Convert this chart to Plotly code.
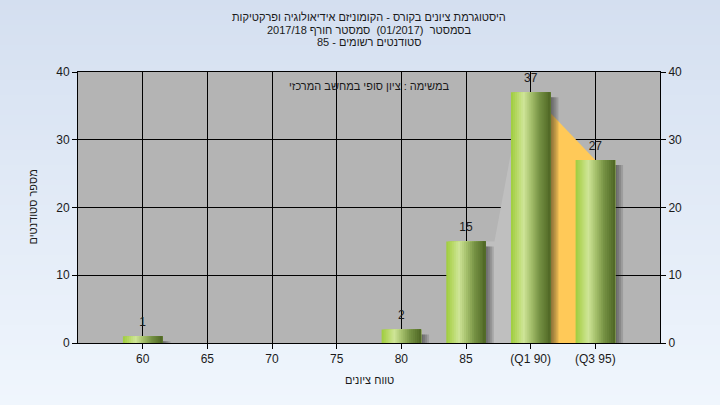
import plotly.graph_objects as go

# ---------------- data ----------------
categories = ["60", "65", "70", "75", "80", "85", "(Q1 90)", "(Q3 95)"]
counts = [1, 0, 0, 0, 2, 15, 37, 27]
y_ticks = [0, 10, 20, 30, 40]

# shaded bands behind the bars
lower_band_x = [5.0, 5.44, 5.87, 6.0]
lower_band_y = [15, 15, 37, 37]
quartile_band_x = [6, 7]
quartile_band_y = [37, 27]

title_lines = [
    "היסטוגרמת ציונים בקורס - הקומוניזם אידיאולוגיה ופרקטיקות",
    "בסמסטר  (01/2017)  סמסטר חורף 2017/18",
    "סטודנטים רשומים - 85",
]
note_text = "במשימה : ציון סופי במחשב המרכזי"
x_title = "טווח ציונים"
y_title = "מספר סטודנטים"

# ---------------- styling ----------------
FONT = "Liberation Sans, Arial, sans-serif"
TXT = "#1a1a1a"
W = 720
H = 405
M_L, M_R, M_T, M_B = 78, 60, 72, 62
bar_w = 0.61
n_slices = 20
stops = [
    (0.00, (158, 204, 62)),
    (0.12, (178, 214, 92)),
    (0.32, (207, 229, 152)),
    (0.50, (168, 194, 110)),
    (0.72, (118, 146, 68)),
    (1.00, (78, 102, 36)),
]


def grad(t):
    for (t0, c0), (t1, c1) in zip(stops[:-1], stops[1:]):
        if t0 <= t <= t1:
            f = (t - t0) / (t1 - t0)
            return "rgb(%d,%d,%d)" % tuple(round(a + (b - a) * f) for a, b in zip(c0, c1))
    return "rgb(%d,%d,%d)" % stops[-1][1]


def band_path(xs, ys):
    pts = ["M %s,0" % xs[0]]
    pts += ["L %s,%s" % (x, y) for x, y in zip(xs, ys)]
    pts.append("L %s,0 Z" % xs[-1])
    return " ".join(pts)


positions = list(range(len(categories)))

fig = go.Figure()

# shadows
px_x = 1.0 / 64.6
px_y = 40.0 / 271
for k in range(1, 5):
    fig.add_trace(go.Bar(
        x=positions, y=[max(c - 5 * px_y, 0) if c > 0 else 0 for c in counts],
        width=bar_w, offset=-bar_w / 2 + 2 * k * px_x,
        marker=dict(color="rgba(30,30,30,0.15)", line=dict(width=0)),
        hoverinfo="skip", showlegend=False))

# gradient bars (slices, each covering from its start to the bar's right edge)
sw = bar_w / n_slices
for i in range(n_slices):
    t = (i + 0.5) / n_slices
    fig.add_trace(go.Bar(
        x=positions, y=counts, width=bar_w - i * sw,
        offset=-bar_w / 2 + i * sw,
        marker=dict(color=grad(t), line=dict(width=0)),
        hoverinfo="skip", showlegend=False))

# value labels
lab_x = [p for p, c in zip(positions, counts) if c > 0]
lab_y = [c for c in counts if c > 0]
fig.add_trace(go.Scatter(
    x=lab_x, y=lab_y, mode="markers+text", text=[str(v) for v in lab_y],
    marker=dict(size=10, opacity=0),
    textposition="top center", textfont=dict(family=FONT, size=12, color=TXT),
    hoverinfo="skip", showlegend=False, cliponaxis=False))

# invisible trace for the right axis
fig.add_trace(go.Scatter(x=[0], y=[0], yaxis="y2", mode="markers",
                         marker=dict(opacity=0), hoverinfo="skip", showlegend=False))

# background gradient stripes
shapes = []
n_strip = 81
top_c = (212, 223, 240)
bot_c = (240, 246, 253)
y_lo = -M_B / (H - M_T - M_B)
y_hi = 1 + M_T / (H - M_T - M_B)
for i in range(n_strip):
    f0 = i / n_strip
    f1 = (i + 1) / n_strip
    c = tuple(round(a + (b - a) * (f0 + 0.5 / n_strip)) for a, b in zip(top_c, bot_c))
    shapes.append(dict(type="rect", xref="paper", yref="paper", layer="below",
                       x0=-0.3, x1=1.3,
                       y0=y_hi - (y_hi - y_lo) * f1 - 0.002, y1=y_hi - (y_hi - y_lo) * f0,
                       fillcolor="rgb(%d,%d,%d)" % c, line=dict(width=0)))
shapes.append(dict(type="rect", xref="paper", yref="paper", layer="below",
                   x0=0, x1=1, y0=0, y1=1, fillcolor="rgb(180,180,180)", line=dict(width=0)))
# bands (above gridlines, below bars)
shapes.append(dict(type="path", xref="x", yref="y", layer="between",
                   path=band_path(lower_band_x, lower_band_y),
                   fillcolor="rgb(191,191,191)", line=dict(width=0)))
shapes.append(dict(type="path", xref="x", yref="y", layer="between",
                   path=band_path(quartile_band_x, quartile_band_y),
                   fillcolor="rgb(255,201,88)", line=dict(width=0)))

HEB = dict(family=FONT, size=11, color=TXT)
annotations = []
for ln, ys in zip(title_lines, [55, 42.5, 30]):
    annotations.append(dict(text=ln, xref="paper", yref="paper", x=0.5, y=1,
                            xanchor="center", yanchor="middle", yshift=ys, showarrow=False,
                            font=HEB))
annotations.append(dict(text=note_text, xref="paper", yref="paper", x=0.5, y=1,
                        xanchor="center", yanchor="middle", yshift=-14, showarrow=False,
                        font=HEB))
annotations.append(dict(text=x_title, xref="paper", yref="paper", x=0.5, y=0,
                        xanchor="center", yanchor="middle", yshift=-37, showarrow=False,
                        font=HEB))
annotations.append(dict(text=y_title, xref="paper", yref="paper", x=0, y=0.5,
                        xanchor="center", yanchor="middle", xshift=-46, textangle=-90,
                        showarrow=False, font=HEB))

axis_font = dict(family=FONT, size=12, color=TXT)
fig.update_layout(
    width=W, height=H,
    margin=dict(l=M_L, r=M_R, t=M_T, b=M_B, pad=0),
    paper_bgcolor="rgb(226,235,247)",
    plot_bgcolor="rgba(0,0,0,0)",
    barmode="overlay",
    showlegend=False,
    hovermode=False,
    shapes=shapes,
    annotations=annotations,
    xaxis=dict(range=[-1, 8], tickmode="array", tickvals=positions, ticktext=categories,
               showgrid=True, gridcolor="black", gridwidth=1, zeroline=False,
               showline=True, linecolor="black", linewidth=1, mirror=True,
               ticks="outside", ticklen=5, tickcolor="black", tickfont=axis_font,
               fixedrange=True),
    yaxis=dict(range=[0, 40], tickmode="array", tickvals=y_ticks,
               showgrid=True, gridcolor="black", gridwidth=1, zeroline=False,
               showline=True, linecolor="black", linewidth=1,
               ticks="outside", ticklen=5, tickcolor="black", tickfont=axis_font,
               fixedrange=True),
    yaxis2=dict(range=[0, 40], tickmode="array", tickvals=y_ticks, overlaying="y",
                side="right", anchor="x", showgrid=False, zeroline=False,
                showline=True, linecolor="black", linewidth=1,
                ticks="outside", ticklen=5, tickcolor="black", tickfont=axis_font,
                fixedrange=True),
)

fig.write_html("out.html", config={"displayModeBar": False},
               post_script="document.body.style.margin='0';document.body.style.overflow='hidden';")
